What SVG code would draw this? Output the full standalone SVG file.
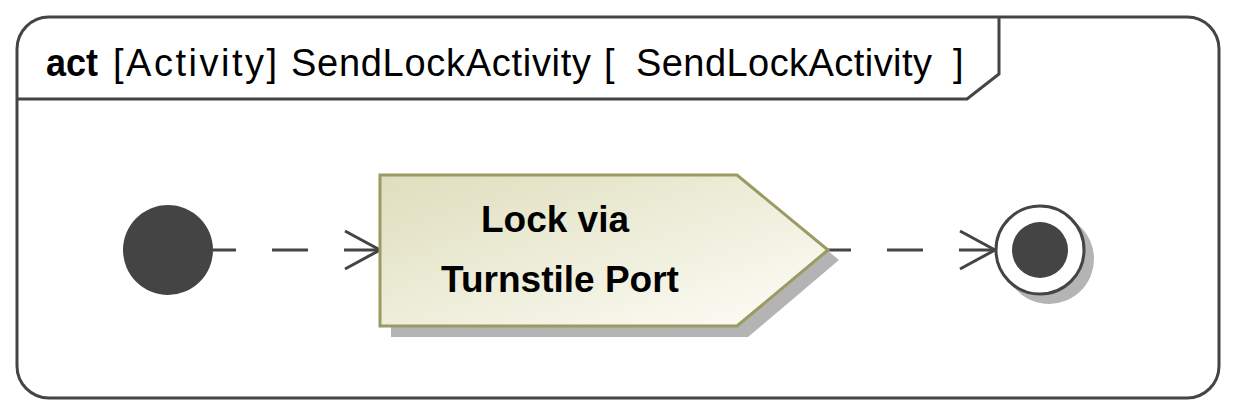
<svg xmlns="http://www.w3.org/2000/svg" width="1237" height="416" viewBox="0 0 1237 416">
  <style>
    .frame { fill: #ffffff; stroke: #444444; stroke-width: 3; }
    .hdr { fill: none; stroke: #444444; stroke-width: 3; stroke-linejoin: miter; }
    .title { font-family: "Liberation Sans", Arial, sans-serif; font-size: 38px; fill: #000000; }
    .title-b { font-weight: bold; }
    .action { fill: url(#actGrad); stroke: #9a9a62; stroke-width: 3; stroke-linejoin: miter; }
    .shadow { fill: #b4b4b4; stroke: none; }
    .label { font-family: "Liberation Sans", Arial, sans-serif; font-size: 37px; font-weight: bold; fill: #000000; text-anchor: middle; }
    .flow { fill: none; stroke: #444444; stroke-width: 3; stroke-dasharray: 36 36; }
    .head { fill: none; stroke: #444444; stroke-width: 3; stroke-linejoin: miter; }
    .dark { fill: #444444; }
  </style>
  <defs>
    <linearGradient id="actGrad" x1="0" y1="0" x2="1" y2="1">
      <stop offset="0" stop-color="#dfdebd"/>
      <stop offset="1" stop-color="#fdfdf8"/>
    </linearGradient>
  </defs>

  <g id="frame">
    <rect class="frame" x="17" y="17" width="1202" height="381" rx="32" ry="32"/>
    <path class="hdr" d="M17,99 L967,99 L999,74 L999,17"/>
    <text class="title title-b" x="46" y="76" textLength="52" lengthAdjust="spacingAndGlyphs">act</text>
    <text class="title" x="113" y="76" textLength="164" lengthAdjust="spacing">[Activity]</text>
    <text class="title" x="291" y="76" textLength="300" lengthAdjust="spacing">SendLockActivity</text>
    <text class="title" x="604" y="76">[</text>
    <text class="title" x="636" y="76" textLength="296" lengthAdjust="spacing">SendLockActivity</text>
    <text class="title" x="953" y="76">]</text>
  </g>

  <g id="connectors">
    <path class="flow" d="M380,250 L213,250"/>
    <path class="head" d="M345,231 L380,250 L345,269"/>
    <path class="flow" d="M995,250 L828,250"/>
    <path class="head" d="M960,231 L995,250 L960,269"/>
  </g>

  <g id="initial">
    <circle class="dark" cx="168" cy="250" r="45"/>
  </g>

  <g id="action">
    <polygon class="shadow" points="391,185 748,185 839,260 748,337 391,337"/>
    <polygon class="action" points="380,175 737,175 828,250 737,326 380,326"/>
    <text class="label" x="555" y="232">Lock via</text>
    <text class="label" x="560" y="292">Turnstile Port</text>
  </g>

  <g id="final">
    <circle class="shadow" cx="1049" cy="259" r="45"/>
    <circle cx="1040" cy="250" r="44" fill="#ffffff" stroke="#444444" stroke-width="3"/>
    <circle class="dark" cx="1040" cy="250" r="28"/>
  </g>
</svg>
